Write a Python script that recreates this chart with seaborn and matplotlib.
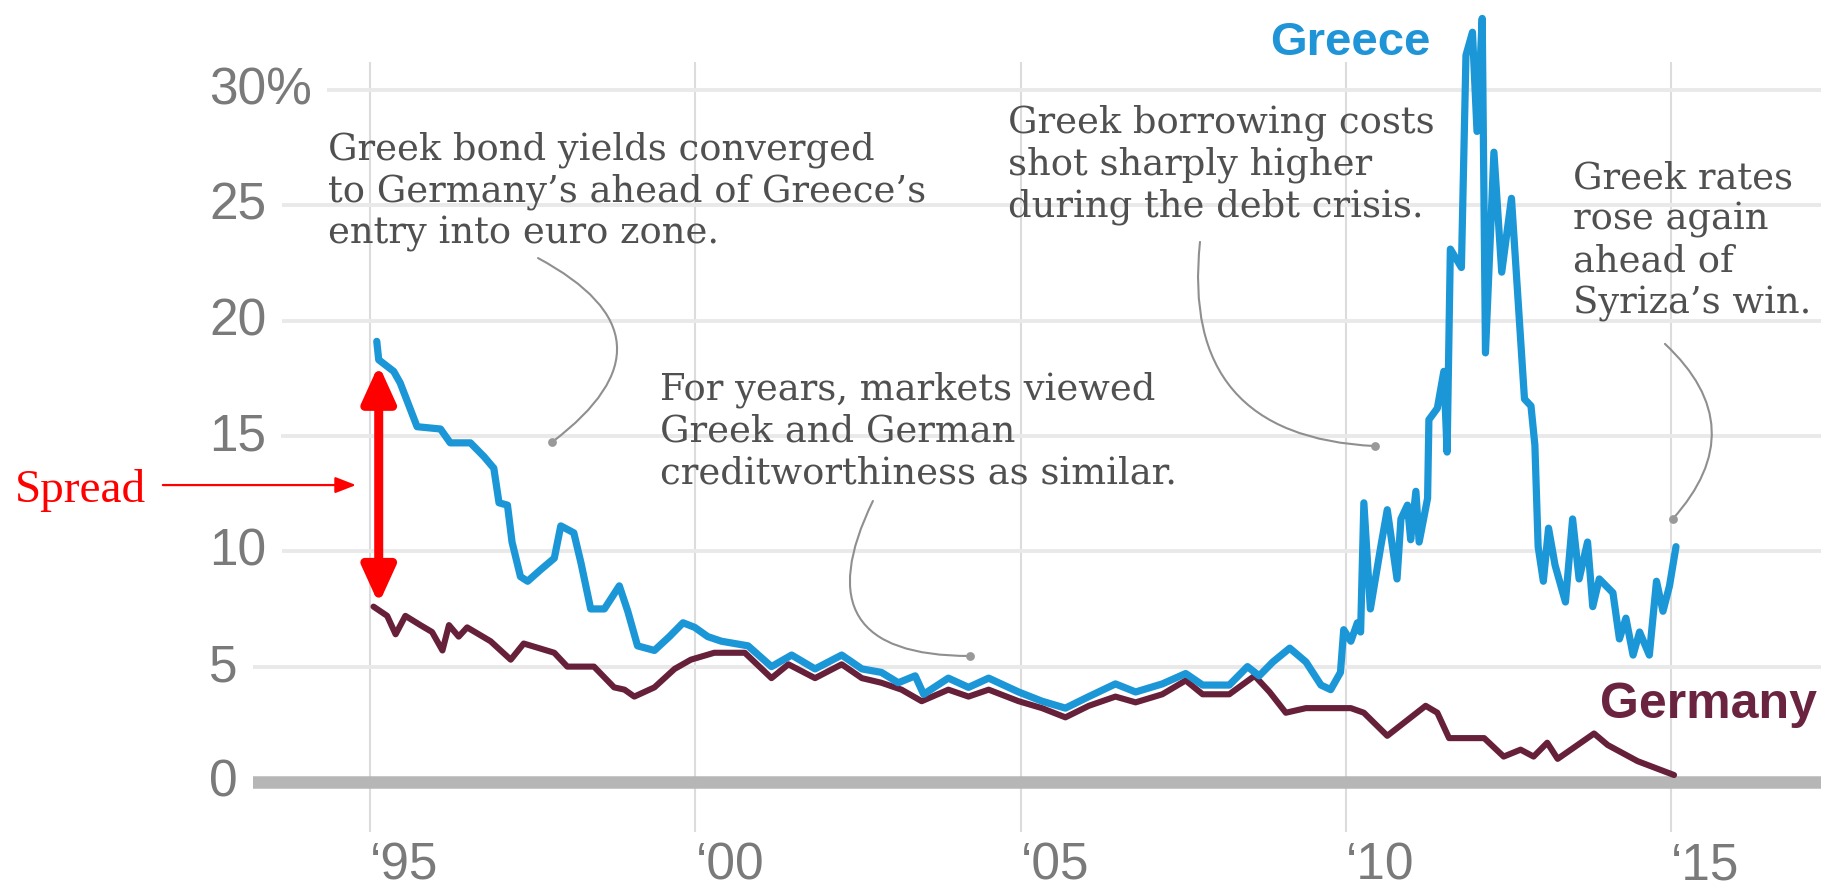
import matplotlib
matplotlib.use("Agg")
import matplotlib.pyplot as plt
import pandas as pd
import seaborn as sns

# ---------------- data ----------------
greece_year = [
    1995.10, 1995.13, 1995.36, 1995.46, 1995.72,
    1996.08, 1996.23, 1996.54, 1996.75, 1996.90, 1996.98,
    1997.11, 1997.18, 1997.31, 1997.42, 1997.62, 1997.83, 1997.93,
    1998.13, 1998.24, 1998.39, 1998.60, 1998.83, 1998.96,
    1999.11, 1999.37, 1999.60, 1999.81, 1999.99,
    2000.19, 2000.40, 2000.81,
    2001.17, 2001.48, 2001.84,
    2002.25, 2002.56, 2002.86,
    2003.12, 2003.38, 2003.51, 2003.89,
    2004.20, 2004.51, 2004.97,
    2005.33, 2005.69,
    2006.05, 2006.46, 2006.77,
    2007.18, 2007.54, 2007.80,
    2008.21, 2008.49, 2008.67, 2008.88,
    2009.14, 2009.39, 2009.62, 2009.77, 2009.92, 2009.97,
    2010.08, 2010.18, 2010.23, 2010.28, 2010.38, 2010.54, 2010.64, 2010.79, 2010.85, 2010.95,
    2011.00, 2011.08, 2011.13, 2011.26, 2011.28, 2011.41, 2011.51, 2011.56, 2011.61, 2011.78, 2011.85, 2011.95,
    2012.02, 2012.10, 2012.15, 2012.28, 2012.40, 2012.55, 2012.75, 2012.85, 2012.91, 2012.96,
    2013.04, 2013.12, 2013.22, 2013.38, 2013.49, 2013.59, 2013.72, 2013.80, 2013.90,
    2014.11, 2014.21, 2014.31, 2014.42, 2014.52, 2014.67, 2014.78, 2014.88, 2014.98,
    2015.08,
]
greece_yield = [
    19.1, 18.3, 17.8, 17.3, 15.4,
    15.3, 14.7, 14.7, 14.1, 13.6, 12.1,
    12.0, 10.4, 8.9, 8.7, 9.2, 9.7, 11.1,
    10.8, 9.5, 7.5, 7.5, 8.5, 7.4,
    5.9, 5.7, 6.3, 6.9, 6.7,
    6.3, 6.1, 5.9,
    5.0, 5.5, 4.9,
    5.5, 4.9, 4.75,
    4.3, 4.6, 3.8, 4.5,
    4.1, 4.5, 3.9,
    3.5, 3.2,
    3.7, 4.25, 3.9,
    4.25, 4.7, 4.2,
    4.2, 5.0, 4.6, 5.2,
    5.8, 5.2, 4.2, 4.0, 4.75, 6.6,
    6.1, 6.9, 6.5, 12.1, 7.5, 10.2, 11.8, 8.8, 11.4, 12.0,
    10.5, 12.6, 10.4, 12.3, 15.7, 16.2, 17.8, 14.3, 23.1, 22.3, 31.5, 32.5,
    28.2, 33.1, 18.6, 27.3, 22.1, 25.3, 16.6, 16.3, 14.6, 10.2,
    8.7, 11.0, 9.4, 7.8, 11.4, 8.8, 10.4, 7.6, 8.8,
    8.2, 6.2, 7.1, 5.5, 6.5, 5.5, 8.7, 7.4, 8.5,
    10.2,
]

germany_year = [
    1995.05, 1995.26, 1995.39, 1995.54, 1995.77, 1995.95,
    1996.11, 1996.21, 1996.36, 1996.49, 1996.85,
    1997.16, 1997.36, 1997.83,
    1998.03, 1998.44, 1998.75, 1998.91,
    1999.06, 1999.37, 1999.68, 1999.93,
    2000.29, 2000.76,
    2001.17, 2001.43, 2001.84,
    2002.25, 2002.56, 2002.86,
    2003.17, 2003.48, 2003.89,
    2004.20, 2004.51, 2004.97,
    2005.33, 2005.69,
    2006.05, 2006.46, 2006.77,
    2007.18, 2007.54, 2007.80,
    2008.21, 2008.60, 2008.83,
    2009.08, 2009.39, 2009.86,
    2010.08, 2010.28, 2010.64,
    2011.23, 2011.41, 2011.59,
    2012.13, 2012.43, 2012.69, 2012.89,
    2013.10, 2013.26, 2013.82,
    2014.03, 2014.49,
    2015.05,
]
germany_yield = [
    7.6, 7.2, 6.4, 7.2, 6.8, 6.5,
    5.7, 6.8, 6.3, 6.7, 6.1,
    5.3, 6.0, 5.6,
    5.0, 5.0, 4.1, 4.0,
    3.7, 4.1, 4.9, 5.3,
    5.6, 5.6,
    4.5, 5.1, 4.5,
    5.1, 4.5, 4.3,
    4.0, 3.5, 4.0,
    3.7, 4.0, 3.5,
    3.2, 2.8,
    3.3, 3.7, 3.45,
    3.8, 4.4, 3.8,
    3.8, 4.6, 3.9,
    3.0, 3.2, 3.2,
    3.2, 3.0, 2.0,
    3.3, 3.0, 1.9,
    1.9, 1.1, 1.4, 1.1,
    1.7, 1.0, 2.1,
    1.6, 0.9,
    0.3,
]

ytick_values = [0, 5, 10, 15, 20, 25, 30]
ytick_labels = ["0", "5", "10", "15", "20", "25", "30%"]
xtick_years = [1995, 2000, 2005, 2010, 2015]
xtick_labels = ["\u201895", "\u201800", "\u201805", "\u201810", "\u201815"]

note_texts = [
    "Greek bond yields converged\nto Germany\u2019s ahead of Greece\u2019s\nentry into euro zone.",
    "For years, markets viewed\nGreek and German\ncreditworthiness as similar.",
    "Greek borrowing costs\nshot sharply higher\nduring the debt crisis.",
    "Greek rates\nrose again\nahead of\nSyriza\u2019s win.",
]
note_pos = [(1994.35, 28.26), (1999.46, 17.82), (2004.81, 29.43), (2013.50, 27.0)]
conn_start = [(1997.58, 22.71), (2002.73, 12.18), (2007.76, 23.41), (2014.91, 18.99)]
conn_end_x = [1997.80, 2004.22, 2010.45, 2015.03]
conn_end_y = [14.74, 5.46, 14.56, 11.40]
conn_rad = [-0.78, 0.8, 0.53, -0.49]

# ---------------- style ----------------
sns.set_style("white")
plt.rcParams["font.family"] = ["Liberation Sans", "DejaVu Sans"]

GREECE = "#1b97d8"
GERMANY = "#66203a"
LABEL_GRAY = "#7a7a7a"
NOTE_GRAY = "#505050"

W, H = 1821, 895
fig = plt.figure(figsize=(W / 100, H / 100), dpi=100)
ax = fig.add_axes([209 / W, 62 / H, (W - 209) / W, 770 / H])
ax.set_xlim(1992.52, 2017.31)
ax.set_ylim(-2.17, 31.21)

df_gr = pd.DataFrame({"year": greece_year, "yield": greece_yield})
df_de = pd.DataFrame({"year": germany_year, "yield": germany_yield})

sns.lineplot(data=df_de, x="year", y="yield", ax=ax, color=GERMANY, lw=4.4,
             estimator=None, sort=False, zorder=3, solid_joinstyle="round",
             solid_capstyle="round", clip_on=False)
sns.lineplot(data=df_gr, x="year", y="yield", ax=ax, color=GREECE, lw=5.2,
             estimator=None, sort=False, zorder=4, solid_joinstyle="round",
             solid_capstyle="round", clip_on=False)

# axes cosmetics
for s in ax.spines.values():
    s.set_visible(False)
ax.set_xlabel("")
ax.set_ylabel("")
ax.set_yticks(ytick_values)
ax.set_xticks(xtick_years, labels=xtick_labels)
ax.tick_params(axis="y", length=0, labelleft=False)
ax.tick_params(axis="x", length=0, pad=6, labelsize=37, labelcolor=LABEL_GRAY)
for t in ax.get_xticklabels():
    t.set_ha("left")
ax.set_axisbelow(True)
ax.yaxis.grid(True, color="#e9e9e9", lw=2.8)
ax.xaxis.grid(True, color="#dcdcdc", lw=1.5)
ax.axhline(0, color="#b6b6b6", lw=9, zorder=1)

ytrans = ax.get_yaxis_transform()
for v, lab in zip(ytick_values, ytick_labels):
    ax.text(0, v, lab, transform=ytrans, ha="left", va="center", fontsize=37,
            color=LABEL_GRAY, zorder=1.5,
            bbox=dict(boxstyle="square,pad=0.3", fc="white", ec="none"))

# series labels
ax.text(2008.84, 31.56, "Greece", color="#1f94d6", fontsize=34, fontweight="bold",
        ha="left", va="baseline", clip_on=False)
ax.text(2013.91, 2.82, "Germany", color="#6b2440", fontsize=36, fontweight="bold",
        ha="left", va="baseline", zorder=5)

# notes with curved leaders
for txt, (tx, ty) in zip(note_texts, note_pos):
    ax.text(tx, ty, txt, family=["DejaVu Serif"], fontsize=26.6, color=NOTE_GRAY,
            ha="left", va="top", linespacing=1.2, zorder=6)
for (sx, sy), ex, ey, r in zip(conn_start, conn_end_x, conn_end_y, conn_rad):
    ax.annotate("", xy=(ex, ey), xytext=(sx, sy),
                arrowprops=dict(arrowstyle="-", color="#8f8f8f", lw=1.5,
                                connectionstyle=f"arc3,rad={r}", shrinkA=0, shrinkB=0),
                zorder=6)
ax.scatter(conn_end_x, conn_end_y, s=40, color="#999999", zorder=7, linewidths=0)

# red "Spread" markup
ax.text(1989.54, 12.18, "Spread", family=["Liberation Serif"], fontsize=34,
        color="#ff0000", ha="left", va="baseline", clip_on=False)
ax.annotate("", xy=(1994.78, 12.87), xytext=(1991.81, 12.87),
            arrowprops=dict(arrowstyle="-|>,head_length=0.9,head_width=0.35",
                            color="#ff0000", lw=1.6, shrinkA=0, shrinkB=0,
                            mutation_scale=14),
            annotation_clip=False, zorder=8)
ax.annotate("", xy=(1995.13, 18.08), xytext=(1995.13, 7.72),
            arrowprops=dict(arrowstyle="<|-|>,head_length=22,head_width=10",
                            color="#ff0000", lw=6.5, shrinkA=0, shrinkB=0,
                            mutation_scale=1),
            annotation_clip=False, zorder=8)

fig.savefig("out.png", dpi=100)
